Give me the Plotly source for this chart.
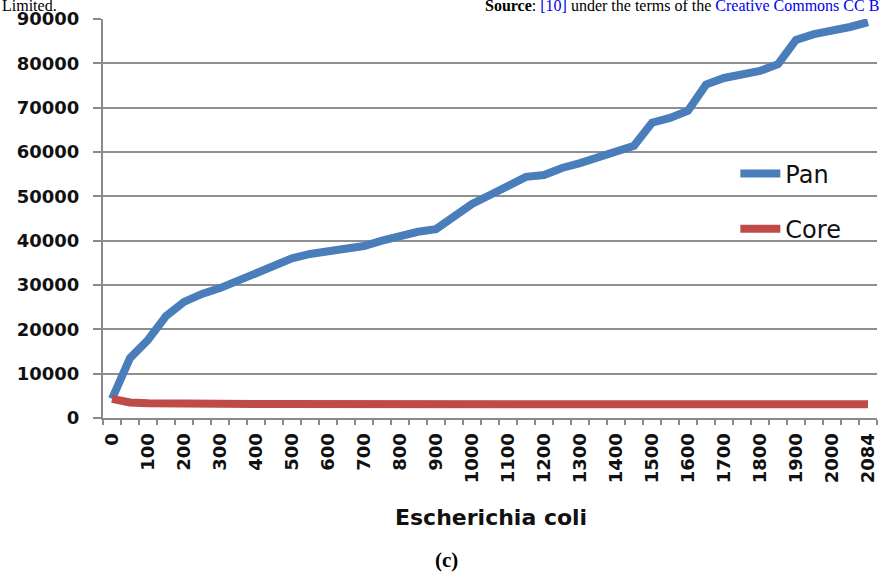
import plotly.graph_objects as go

# Number of genomes (category axis, Excel-style)
genomes = [str(v) for v in range(0, 2051, 50)] + ["2084"]

pan = [4300, 13500, 17600, 23000, 26200, 28000, 29300, 31000, 32700, 34300,
       36000, 37000, 37700, 38200, 38800, 40000, 41200, 42000, 42600, 45600,
       48300, 50300, 52600, 54400, 54800, 56400, 57500, 58900, 60000, 61400,
       66600, 67700, 69300, 75200, 76700, 77400, 78300, 79800, 85300, 86600,
       87300, 88200, 89300]

core = [4300, 3500, 3300, 3200, 3200, 3200, 3150, 3150, 3150, 3150,
        3150, 3150, 3150, 3100, 3100, 3100, 3100, 3100, 3100, 3100,
        3100, 3100, 3100, 3100, 3100, 3100, 3100, 3100, 3100, 3100,
        3100, 3100, 3100, 3100, 3100, 3100, 3100, 3100, 3100, 3100,
        3100, 3100, 3100]

x_ticktext = [g if i % 2 == 0 or g == "2084" else "" for i, g in enumerate(genomes)]
y_ticks = list(range(0, 90001, 10000))

fig = go.Figure()
fig.add_trace(go.Scatter(x=genomes, y=pan, mode="lines", name="Pan",
                         legendgroup="pan",
                         line=dict(color="#4A7EBB", width=8)))
fig.add_trace(go.Scatter(x=genomes, y=core, mode="lines", name="Core",
                         legendgroup="core",
                         line=dict(color="#BE4B48", width=8)))

tickfont = dict(family="DejaVu Sans", size=18, color="#111111", weight="bold")

fig.update_layout(
    width=880, height=572,
    margin=dict(l=103, r=3, t=19, b=154),
    paper_bgcolor="white", plot_bgcolor="white",
    showlegend=True,
    legend=dict(x=0.817, y=0.668, xanchor="left", yanchor="top",
                font=dict(family="DejaVu Sans", size=24, color="#111111"),
                tracegroupgap=21, bgcolor="rgba(0,0,0,0)",
                itemwidth=40),
    xaxis=dict(type="category", range=[-0.5, len(genomes) - 0.5],
               tickmode="array", tickvals=genomes, ticktext=x_ticktext,
               tickson="boundaries", ticks="outside", ticklen=5, tickwidth=2,
               tickcolor="#8a8a8a", tickangle=-90, tickfont=tickfont,
               ticklabelstandoff=6,
               showline=True, linecolor="#8a8a8a", linewidth=2,
               showgrid=False, zeroline=False),
    yaxis=dict(range=[0, 90000], tickmode="array", tickvals=y_ticks,
               ticktext=[str(v) for v in y_ticks],
               ticks="outside", ticklen=8, tickwidth=2, tickcolor="#8a8a8a",
               tickfont=tickfont, ticklabelstandoff=10,
               showline=True, linecolor="#8a8a8a", linewidth=2,
               showgrid=True, gridcolor="#8f8f8f", gridwidth=2,
               zeroline=False),
    annotations=[
        dict(text="<b>Escherichia coli</b>", xref="paper", yref="paper",
             x=0.501, y=-0.25, xanchor="center", yanchor="middle",
             showarrow=False,
             font=dict(family="DejaVu Sans", size=22, color="#111111")),
        dict(text="<b>(c)</b>", xref="paper", yref="paper",
             x=0.444, y=-0.355, xanchor="center", yanchor="middle",
             showarrow=False,
             font=dict(family="Liberation Serif", size=21, color="black")),
        dict(text="Limited.", xref="paper", yref="paper",
             x=-0.133, y=1.035, xanchor="left", yanchor="middle",
             showarrow=False,
             font=dict(family="Liberation Serif", size=16, color="black")),
        dict(text="<b>Source</b>: <span style='color:#0000EE'>[10]</span> under the terms of the "
                  "<span style='color:#0000EE'>Creative Commons CC BY</span>",
             xref="paper", yref="paper",
             x=0.491, y=1.035, xanchor="left", yanchor="middle",
             showarrow=False,
             font=dict(family="Liberation Serif", size=16, color="black")),
    ],
)

fig.write_html("out.html",
               config={"displayModeBar": False},
               post_script="document.body.style.margin='0';document.body.style.padding='0';")
